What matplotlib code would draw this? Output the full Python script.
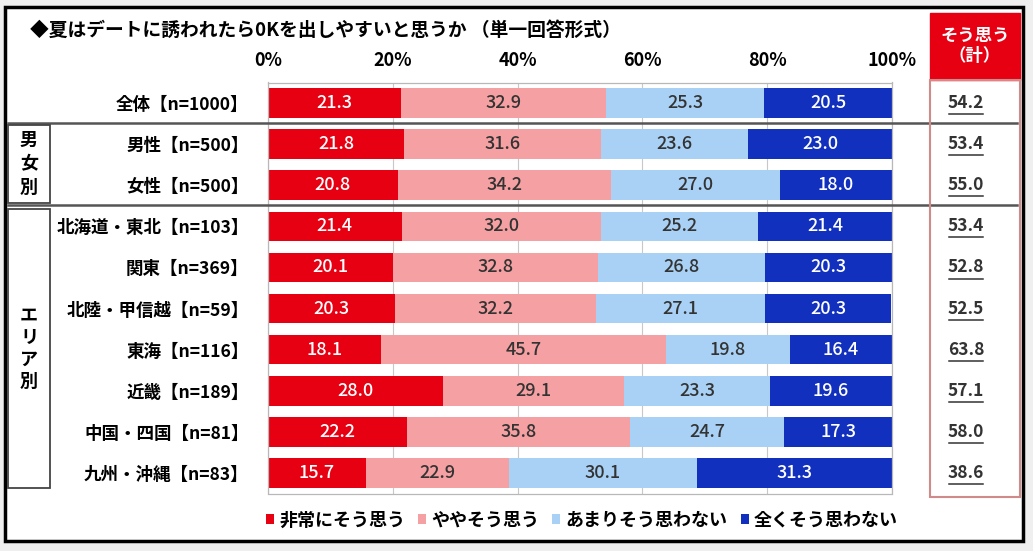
import matplotlib
matplotlib.use("Agg")
import matplotlib.pyplot as plt
from matplotlib.patches import Rectangle
from matplotlib.lines import Line2D
from matplotlib.transforms import blended_transform_factory
import numpy as np

plt.rcParams['font.family'] = ['Noto Sans CJK JP', 'DejaVu Sans']
plt.rcParams['font.weight'] = 'bold'

# ---------------- data ----------------
categories = ["全体【n=1000】", "男性【n=500】", "女性【n=500】",
              "北海道・東北【n=103】", "関東【n=369】", "北陸・甲信越【n=59】",
              "東海【n=116】", "近畿【n=189】", "中国・四国【n=81】", "九州・沖縄【n=83】"]
series_names = ["非常にそう思う", "ややそう思う", "あまりそう思わない", "全くそう思わない"]
very = [21.3, 21.8, 20.8, 21.4, 20.1, 20.3, 18.1, 28.0, 22.2, 15.7]
somewhat = [32.9, 31.6, 34.2, 32.0, 32.8, 32.2, 45.7, 29.1, 35.8, 22.9]
not_much = [25.3, 23.6, 27.0, 25.2, 26.8, 27.1, 19.8, 23.3, 24.7, 30.1]
not_at_all = [20.5, 23.0, 18.0, 21.4, 20.3, 20.3, 16.4, 19.6, 17.3, 31.3]
totals = ["54.2", "53.4", "55.0", "53.4", "52.8", "52.5", "63.8", "57.1", "58.0", "38.6"]
xticks = [0, 20, 40, 60, 80, 100]
xtick_labels = ["0%", "20%", "40%", "60%", "80%", "100%"]
title = "◆夏はデートに誘われたら0Kを出しやすいと思うか （単一回答形式）"
group_labels = ["男\n女\n別", "エ\nリ\nア\n別"]
total_header = "そう思う\n（計）"

colors = ["#E60012", "#F5A0A2", "#A9D1F5", "#1230BE"]
text_colors = ["white", "#333333", "#333333", "white"]

W, H = 1033, 551
fig = plt.figure(figsize=(W / 100, H / 100), dpi=100)
fig.patch.set_facecolor("#EFEFEF")


def fx(x):
    return x / W


def fy(y):
    return 1 - y / H


# outer white frame
fig.patches.append(Rectangle((fx(5), fy(541)), fx(1023) - fx(5), fy(7) - fy(541),
                             transform=fig.transFigure, facecolor="white",
                             edgecolor="black", linewidth=2.5, zorder=-1))

ax = fig.add_axes([fx(268), fy(493.5), fx(892) - fx(268), (493.5 - 82.5) / H])
ax.patch.set_alpha(0)

data = [very, somewhat, not_much, not_at_all]
y = np.arange(len(categories))
left = np.zeros(len(categories))
for vals, c, tc, name in zip(data, colors, text_colors, series_names):
    vals = np.array(vals)
    ax.barh(y, vals, left=left, height=0.72, color=c, label=name, zorder=2)
    for yi, l, v in zip(y, left, vals):
        ax.text(l + v / 2, yi, f"{v:.1f}", ha="center", va="center",
                color=tc, fontsize=13, fontweight="medium", zorder=3)
    left += vals

ax.set_xlim(0, 100)
ax.set_ylim(len(categories) - 0.5, -0.5)
ax.set_xticks(xticks)
ax.set_xticklabels(xtick_labels)
ax.xaxis.tick_top()
ax.tick_params(axis="x", length=0, pad=9, labelsize=13)
ax.set_yticks(y)
ax.set_yticklabels(categories)
ax.tick_params(axis="y", length=0, pad=14, labelsize=12.6)
for sp in ax.spines.values():
    sp.set_color("#B8B8B8")
    sp.set_linewidth(0.9)
ax.set_axisbelow(True)
ax.xaxis.grid(True, color="#C8C8C8", linewidth=0.8)

# title
fig.text(fx(30), fy(30), title, ha="left", va="center", fontsize=13.5, fontweight="bold")

# separators
for yy in (123, 205):
    fig.lines.append(Line2D([fx(8), fx(1017)], [fy(yy), fy(yy)], transform=fig.transFigure,
                            color="#555555", linewidth=1.8, zorder=1))

# group boxes
for (x0, y0, x1, y1), lab, ls in zip([(8, 125, 50, 203), (8, 209, 50, 488)], group_labels,
                                     [1.28, 1.22]):
    fig.patches.append(Rectangle((fx(x0), fy(y1)), fx(x1) - fx(x0), fy(y0) - fy(y1),
                                 transform=fig.transFigure, facecolor="none",
                                 edgecolor="#444444", linewidth=1.3))
    fig.text(fx((x0 + x1) / 2), fy((y0 + y1) / 2), lab, ha="center", va="center",
             fontsize=13, fontweight="bold", linespacing=ls)

# right column
fig.patches.append(Rectangle((fx(930), fy(80)), fx(1020) - fx(930), fy(13) - fy(80),
                             transform=fig.transFigure, facecolor="#E60012",
                             edgecolor="#E60012", linewidth=1))
fig.text(fx(975), fy(46), total_header, ha="center", va="center", color="white",
         fontsize=12.5, fontweight="bold", linespacing=1.2)
fig.patches.append(Rectangle((fx(930), fy(497)), fx(1020) - fx(930), fy(80) - fy(497),
                             transform=fig.transFigure, facecolor="none",
                             edgecolor="#D08A8A", linewidth=1.5))
tr = blended_transform_factory(fig.transFigure, ax.transData)
for yi, t in zip(y, totals):
    ax.text(fx(966), yi + 0.0, t, transform=tr, ha="center", va="center",
            fontsize=12.5, fontweight="bold", color="#333333", clip_on=False)
    ax.plot([fx(949), fx(983)], [yi + 0.27, yi + 0.27], transform=tr, color="#333333",
            linewidth=1.1, clip_on=False)

# legend
fig.legend(loc="center", bbox_to_anchor=(fx(582), fy(520)), ncol=4, frameon=False,
           handlelength=0.45, handleheight=0.45, handletextpad=0.3, columnspacing=0.7,
           fontsize=13, borderaxespad=0)

fig.savefig("out.png", dpi=100)
